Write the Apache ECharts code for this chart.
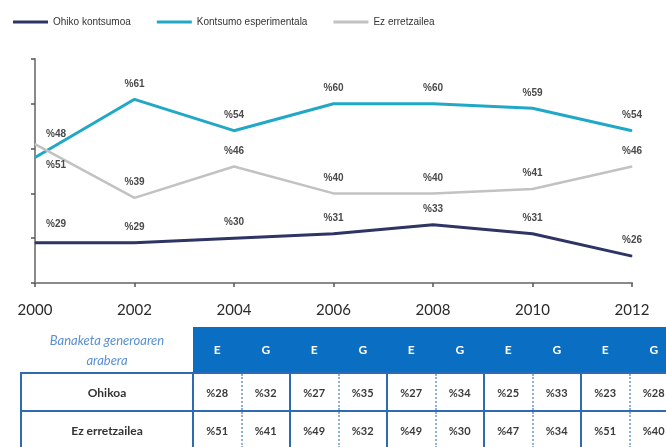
<!DOCTYPE html>
<html>
<head>
<meta charset="utf-8">
<script src="https://cdn.jsdelivr.net/npm/echarts@6/dist/echarts.min.js"></script>
<style>
  body { margin: 0; background: #fff; }
  #wrap { position: relative; width: 666px; height: 447px; overflow: hidden; background: #fff; }
  #chart { position: absolute; left: 0; top: 0; width: 666px; height: 447px; }
  #tbl { position: absolute; left: 20px; top: 327px; border-collapse: collapse; table-layout: fixed; width: 657px; font-family: Lato, 'Liberation Sans', sans-serif; }
  #tbl th, #tbl td { padding: 0; text-align: center; vertical-align: middle; }
  #tbl .corner { height: 45px; color: #5b8fd3; font-style: italic; font-size: 13px; line-height: 20px; font-weight: normal; }
  #tbl .hd { background: #0a6fc2; color: #fff; font-size: 12px; font-weight: bold; }
  #tbl .rowname { height: 36px; border: 2px solid #2d6cb0; color: #333; font-size: 12px; font-weight: bold; }
  #tbl .e, #tbl .g { border-top: 2px solid #2d6cb0; border-bottom: 2px solid #2d6cb0; color: #3a3a3a; font-size: 11px; font-weight: bold; }
  #tbl .e { border-left: 2px solid #2d6cb0; border-right: 2px dotted #8fb2dc; }
  #tbl .g { border-right: 2px solid #2d6cb0; }
</style>
</head>
<body>
<div id="wrap">
  <div id="chart"></div>
  <table id="tbl"></table>
</div>
<script>
// chart data
const years = ['2000', '2002', '2004', '2006', '2008', '2010', '2012']
const ohikoKontsumoa = [29, 29, 30, 31, 33, 31, 26]
const kontsumoEsperimentala = [48, 61, 54, 60, 60, 59, 54]
const ezErretzailea = [51, 39, 46, 40, 40, 41, 46]

// table data (E / G per year)
const tableYears = ['2004', '2006', '2008', '2010', '2012']
const ohikoaE = [28, 27, 27, 25, 23]
const ohikoaG = [32, 35, 34, 33, 28]
const ezErretzaileaE = [51, 49, 49, 47, 51]
const ezErretzaileaG = [41, 32, 30, 34, 40]

// the first point sits on the y axis, so its label is pushed right
function withFirstLabel(values, label) {
  return values.map((v, i) => i === 0 ? { value: v, label: label } : v)
}

const labelStyle = {
  show: true,
  position: 'top',
  distance: 10,
  formatter: '%{c}',
  color: '#4a4a4a',
  fontSize: 10,
  fontWeight: 'bold',
  fontFamily: 'Liberation Sans Narrow, Liberation Sans, sans-serif'
}

function lineSeries(name, color, width, data) {
  return {
    name: name,
    type: 'line',
    data: data,
    // tiny symbols so that the value labels are drawn
    symbol: 'circle',
    symbolSize: 1,
    showSymbol: true,
    itemStyle: { color: color },
    lineStyle: { color: color, width: width },
    label: labelStyle,
    emphasis: { disabled: true },
    animation: false
  }
}

const chart = echarts.init(document.getElementById('chart'))
chart.setOption({
  legend: {
    left: 8,
    top: 12,
    icon: 'rect',
    itemWidth: 35,
    itemHeight: 3,
    itemGap: 26,
    textStyle: { color: '#333', fontSize: 10, fontFamily: 'Liberation Sans, sans-serif' },
    data: ['Ohiko kontsumoa', 'Kontsumo esperimentala', 'Ez erretzailea']
  },
  grid: { left: 35, right: 34, top: 59, bottom: 164 },
  xAxis: {
    type: 'category',
    data: years,
    boundaryGap: false,
    axisLine: { lineStyle: { color: '#8a8a8a', width: 2 } },
    axisTick: { show: true, length: 4, lineStyle: { color: '#555', width: 1.5 } },
    axisLabel: { color: '#2a2a2a', fontSize: 15, margin: 20, fontFamily: 'Lato, sans-serif' }
  },
  yAxis: {
    type: 'value',
    min: 20,
    max: 70,
    interval: 10,
    axisLine: { show: true, lineStyle: { color: '#8a8a8a', width: 2 } },
    axisTick: { show: true, length: 4, lineStyle: { color: '#555', width: 1.5 } },
    axisLabel: { show: false },
    splitLine: { show: false }
  },
  series: [
    lineSeries('Ohiko kontsumoa', '#2e3463', 3,
      withFirstLabel(ohikoKontsumoa, { offset: [21, -3] })),
    lineSeries('Kontsumo esperimentala', '#22a8c7', 3,
      withFirstLabel(kontsumoEsperimentala, { offset: [21, -8] })),
    lineSeries('Ez erretzailea', '#c2c2c2', 2.5,
      withFirstLabel(ezErretzailea, { position: 'bottom', offset: [21, 6] }))
  ]
})

// table below the chart
function buildTable() {
  const tbl = document.getElementById('tbl')
  let html = '<colgroup><col style="width:172px">'
  tableYears.forEach(() => { html += '<col style="width:48.5px"><col style="width:48.5px">' })
  html += '</colgroup>'
  html += '<tr><th class="corner">Banaketa generoaren<br>arabera</th>'
  tableYears.forEach(() => { html += '<th class="hd">E</th><th class="hd">G</th>' })
  html += '</tr>'
  const rows = [
    ['Ohikoa', ohikoaE, ohikoaG],
    ['Ez erretzailea', ezErretzaileaE, ezErretzaileaG]
  ]
  rows.forEach(([name, e, g]) => {
    html += '<tr><td class="rowname">' + name + '</td>'
    tableYears.forEach((y, i) => {
      html += '<td class="e">%' + e[i] + '</td><td class="g">%' + g[i] + '</td>'
    })
    html += '</tr>'
  })
  tbl.innerHTML = html
}
buildTable()
</script>
</body>
</html>
